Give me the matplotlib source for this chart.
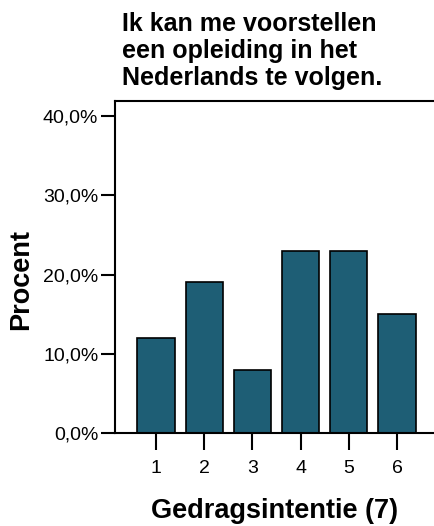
import numpy as np
import matplotlib.pyplot as plt

plt.rcParams['font.family'] = ['Liberation Sans', 'DejaVu Sans']

categories = ['1', '2', '3', '4', '5', '6']
percent = [12, 19, 8, 23, 23, 15]
yticks = [0, 10, 20, 30, 40]
ytick_labels = ['0,0%', '10,0%', '20,0%', '30,0%', '40,0%']

fig = plt.figure(figsize=(4.34, 5.26), dpi=100)
ax = fig.add_axes([0.265, 0.1762, 0.733, 0.6324])

x = np.arange(1, len(categories) + 1)
ax.bar(x, percent, width=0.77, color='#1e5e75', edgecolor='black', linewidth=1.2, zorder=2)

ax.set_xlim(0.15, 6.75)
ax.set_ylim(0, 41.9)
ax.set_xticks(x)
ax.set_xticklabels(categories, fontsize=14)
ax.set_yticks(yticks)
ax.set_yticklabels(ytick_labels, fontsize=14)

ax.tick_params(axis='y', length=10, width=1.5, pad=2)
ax.tick_params(axis='x', length=12, width=1.5, pad=7)

for s in ['left', 'top', 'bottom']:
    ax.spines[s].set_linewidth(1.5)
ax.spines['right'].set_visible(False)

ax.set_ylabel('Procent', fontsize=19.5, fontweight='bold')
ax.yaxis.set_label_coords(-0.255, 0.462)
ax.set_xlabel('Gedragsintentie (7)', fontsize=19.5, fontweight='bold', labelpad=15)

fig.text(0.281, 0.978, 'Ik kan me voorstellen\neen opleiding in het\nNederlands te volgen.',
         ha='left', va='top', fontsize=18, fontweight='bold', linespacing=1.17)

fig.savefig('out.png', dpi=100)
